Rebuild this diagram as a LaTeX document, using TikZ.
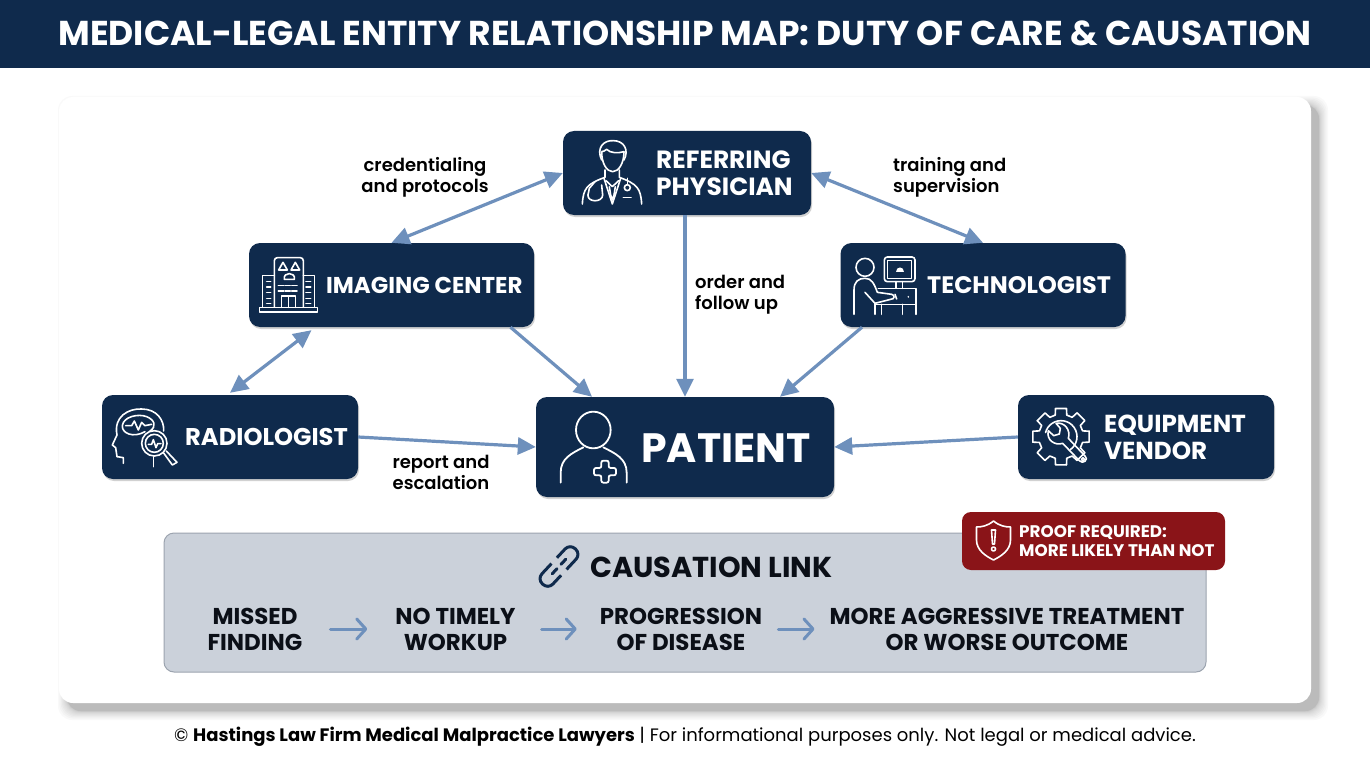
\documentclass[tikz,border=0pt]{standalone}
\usepackage{fontspec}
\setmainfont{Poppins}[BoldFont=Poppins Bold]
\newfontfamily\heavyfont{Poppins SemiBold}
\usetikzlibrary{arrows.meta,shadows}
\definecolor{navy}{HTML}{0F2A4C}
\definecolor{steel}{HTML}{6E90BC}
\definecolor{panel}{HTML}{CBD1DA}
\definecolor{panelline}{HTML}{9CA4AF}
\definecolor{badge}{HTML}{8A1418}
\definecolor{inkblack}{HTML}{0B0F17}
\def\sc{1pt}
\def\boxht{84}
\def\zoomsc{.3333}
\tikzset{
  box/.style={fill=navy, rounded corners=11pt, inner sep=0pt, minimum height=\boxht*\sc,
    drop shadow={shadow xshift=1pt, shadow yshift=-2pt, opacity=.18, fill=black}},
  boxtext/.style={text=white, inner sep=0pt, anchor=west, align=left, font=\fontsize{#1}{27}\selectfont\bfseries},
  edgetext/.style={text=black, inner sep=0pt, font=\fontsize{18}{21}\selectfont\heavyfont},
  steptext/.style={text=inkblack, inner sep=0pt, align=center, font=\fontsize{22.9}{26}\selectfont\bfseries},
  rel/.style={draw=steel, line width=3.2pt, >={Triangle[length=18pt,width=17pt]}},
  stepline/.style={draw=steel, line width=3pt, line cap=round, -{Straight Barb[length=9pt,width=20pt,round]}},
  icon/.style={draw=white, line width=1.6pt, line cap=round, line join=round},
}

\begin{document}
\begin{tikzpicture}[x=\sc, y=-\sc]
\path [use as bounding box] (0,0) rectangle (1370,765);
\fill [navy] (0,0) rectangle (1370,68);
\node (title) at (685,33) [text=white, inner sep=0pt, font=\fontsize{34.5}{38}\selectfont\bfseries]
  {MEDICAL-LEGAL ENTITY RELATIONSHIP MAP: DUTY OF CARE \& CAUSATION};

% card
\foreach \g in {0,...,12}
  \fill [black, opacity=.022, rounded corners=14pt] (67-\g*\g/16,105-\g*\g/16) rectangle (1319+\g*\g/16,711+\g*\g/16);
\fill [white, rounded corners=14pt] (59,97) rectangle (1311,703);

% boxes
\node (refer) at (687,173) [box, minimum width=248*\sc] {};
\node (imaging) at (391.5,285) [box, minimum width=285*\sc] {};
\node (tech) at (983,285) [box, minimum width=285*\sc] {};
\node (radio) at (230,437) [box, minimum width=256*\sc] {};
\node (patient) at (685,447) [box, minimum width=298*\sc, minimum height=100*\sc] {};
\node (vendor) at (1146,437) [box, minimum width=256*\sc] {};

\node (refertxt) at (656,173) [boxtext=24.9] {REFERRING\\PHYSICIAN};
\node (imagingtxt) at (326,285) [boxtext=22.9] {IMAGING CENTER};
\node (techtxt) at (927,285) [boxtext=23.9] {TECHNOLOGIST};
\node (radiotxt) at (185,437) [boxtext=24.2] {RADIOLOGIST};
\node (patienttxt) at (641,448) [boxtext=41] {PATIENT};
\node (vendortxt) at (1104,437) [boxtext=24.6] {EQUIPMENT\\VENDOR};

% connectors
\draw [rel, <->] (refer.west) -- (imaging.north);
\draw [rel, <->] (refer.east) -- (tech.north);
\draw [rel, ->] (refer.south -| patient.north) -- (patient.north);
\draw [rel, <->] ([xshift=-80pt,yshift=-3pt]imaging.south) -- ([yshift=2pt]radio.north);
\draw [rel, ->] ([xshift=119pt]imaging.south) -- ([xshift=-93pt]patient.north);
\draw [rel, ->] ([xshift=-121pt]tech.south) -- ([xshift=95pt]patient.north);
\draw [rel, ->] (radio.east) -- (patient.west);
\draw [rel, ->] (vendor.west) -- (patient.east);

\node (credlabel) at (425,177) [edgetext, align=center] {credentialing\\and protocols};
\node (trainlabel) at (893,177) [edgetext, align=left, anchor=west] {training and\\supervision};
\node (orderlabel) at (695,295) [edgetext, align=left, anchor=west] {order and\\follow up};
\node (reportlabel) at (441,472.5) [edgetext, align=center] {report and\\escalation};

% causation panel
\draw [fill=panel, draw=panelline, line width=1pt, rounded corners=10pt] (164,533) rectangle (1206,672);
\node (causetxt) at (590,567) [anchor=west, inner sep=0pt, text=inkblack, font=\fontsize{28.8}{32}\selectfont\bfseries] {CAUSATION LINK};
\begin{scope} [shift={(559,566.5)}, rotate=47]
  \draw [navy, line width=3pt, rounded corners=7pt] (-3,-7.5) -- (-24,-7.5) -- (-24,7.5) -- (-5,7.5);
  \draw [navy, line width=3pt, rounded corners=7pt] (3,7.5) -- (24,7.5) -- (24,-7.5) -- (5,-7.5);
  \draw [navy, line width=3pt, line cap=round] (-10,0) -- (-3,0);
  \draw [navy, line width=3pt, line cap=round] (3,0) -- (10,0);
\end{scope}

\node (missed) at (255,629) [steptext] {MISSED\\FINDING};
\node (workup) at (455.5,629) [steptext] {NO TIMELY\\WORKUP};
\node (disease) at (681,629) [steptext] {PROGRESSION\\OF DISEASE};
\node (outcome) at (1007,629) [steptext] {MORE AGGRESSIVE TREATMENT\\OR WORSE OUTCOME};
\draw [stepline, shorten <=28pt, shorten >=28pt] (missed.east) -- (workup.west);
\draw [stepline, shorten <=26pt, shorten >=23pt] (workup.east) -- (disease.west);
\draw [stepline, shorten <=16pt, shorten >=15pt] (disease.east) -- (outcome.west);

% badge
\fill [badge, rounded corners=9pt] (962,512) rectangle (1225,570);
\node (prooftxt) at (1019,541) [anchor=west, inner sep=0pt, align=left, text=white, font=\fontsize{16.8}{18.5}\selectfont\bfseries]
  {PROOF REQUIRED:\\MORE LIKELY THAN NOT};
\begin{scope} [shift={(993.5,540)}]
  \draw [icon] (0,-19) .. controls (6,-14) and (12,-13) .. (17,-13) -- (17,0) .. controls (17,10) and (8,16) .. (0,20)
    .. controls (-8,16) and (-17,10) .. (-17,0) -- (-17,-13) .. controls (-12,-13) and (-6,-14) .. (0,-19) -- cycle;
  \draw [icon] (-2,-10) -- (2,-10) -- (1,4) -- (-1,4) -- cycle;
  \draw [icon] (0,9) circle (2);
\end{scope}

% physician icon
\begin{scope} [shift={(550,120)}, scale=\zoomsc]
  \draw [icon] (155,120) .. controls (138,85) and (160,60) .. (190,62) .. controls (222,62) and (238,90) .. (222,120);
  \draw [icon] (155,95) .. controls (155,130) and (170,155) .. (188,155) .. controls (206,155) and (222,130) .. (222,95)
    .. controls (205,100) and (180,100) .. (170,88) .. controls (165,92) and (160,95) .. (155,95);
  \draw [icon] (97,252) .. controls (100,205) and (110,192) .. (165,172) -- (165,150);
  \draw [icon] (275,252) .. controls (272,205) and (262,192) .. (208,172) -- (208,150);
  \draw [icon] (162,175) -- (187,252) -- (212,175);
  \draw [icon] (168,182) -- (187,200) -- (206,182);
  \draw [icon] (178,200) -- (182,225) -- (187,240) -- (192,225) -- (196,200);
  \draw [icon] (135,185) -- (118,205) -- (114,225) (155,195) -- (158,225);
  \draw [icon] (114,225) .. controls (112,248) and (158,248) .. (158,225);
  \draw [icon] (232,175) -- (232,194);
  \draw [icon] (232,203) circle (9);
  \draw [icon] (220,233) -- (243,233);
\end{scope}

% imaging center icon
\begin{scope} [shift={(240,235)}, scale=\zoomsc]
  \draw [icon] (103,122) -- (68,122) -- (68,216);
  \draw [icon] (190,122) -- (224,122) -- (224,216);
  \draw [icon, rounded corners=3pt] (103,216) -- (103,68) -- (190,68) -- (190,216);
  \draw [icon] (58,217) rectangle (233,231);
  \draw [icon] (125,217) -- (125,183) -- (167,183) -- (167,217) (146,183) -- (146,217);
  \foreach \wy in {140,156,173,190,205} {
    \draw [icon] (80,\wy) -- (92,\wy);
    \draw [icon] (198,\wy) -- (212,\wy);
  }
  \foreach \wx in {115,135,155} {
    \draw [icon] (\wx,152) -- (\wx+16,152);
    \draw [icon] (\wx,168) -- (\wx+16,168);
  }
  \draw [icon] (116,105) -- (129,82) -- (142,105) -- cycle;
  \draw [icon] (153,105) -- (166,82) -- (179,105) -- cycle;
  \draw [icon] (133,133) .. controls (128,110) and (168,110) .. (163,133) -- cycle;
\end{scope}

% technologist icon
\begin{scope} [shift={(830,235)}, scale=\zoomsc]
  \draw [icon] (105,97) circle (27);
  \draw [icon] (72,238) -- (72,165) .. controls (72,140) and (85,130) .. (105,130) .. controls (125,130) and (132,145) .. (142,172) -- (185,178) .. controls (195,180) and (195,193) .. (182,193) -- (135,205);
  \draw [icon] (105,172) -- (135,205) -- (135,238);
  \draw [icon, rounded corners=3pt] (163,66) rectangle (255,140);
  \draw [icon] (172,76) rectangle (245,130);
  \fill [white] (197,110) .. controls (197,92) and (222,92) .. (222,110) -- cycle;
  \draw [icon] (198,140) -- (198,160) (218,140) -- (218,160);
  \draw [icon] (145,160) -- (258,160) -- (258,238);
  \draw [icon] (135,208) -- (258,208);
  \draw [icon] (155,238) -- (155,208) (218,238) -- (218,208);
  \draw [icon] (195,178) -- (200,192) (235,185) -- (235,186);
\end{scope}

% radiologist icon
\begin{scope} [shift={(95,385)}, scale=\zoomsc]
  \draw [icon] (85,235) -- (85,218) -- (66,215) -- (62,188) -- (52,180) -- (66,150) .. controls (55,95) and (100,70) .. (140,72) .. controls (185,72) and (208,105) .. (206,138);
  \draw [icon] (175,215) -- (175,245);
  \draw [icon] (150,140) .. controls (115,160) and (80,145) .. (82,122) .. controls (85,95) and (130,85) .. (155,95) .. controls (180,105) and (185,125) .. (165,138);
  \draw [icon] (92,122) -- (110,122) -- (118,108) -- (130,135) -- (140,112) -- (150,122) -- (170,118);
  \draw [icon] (178,175) circle (38);
  \draw [icon] (178,175) circle (27);
  \draw [icon] (160,178) -- (170,178) -- (175,164) -- (183,188) -- (188,176) -- (198,176);
  \draw [icon] (206,204) -- (232,240) -- (246,232) -- (214,198);
\end{scope}

% patient icon
\begin{scope} [shift={(530,390)}, scale=\zoomsc]
  \draw [icon, line width=1.8pt] (190,120) ellipse (52 and 55);
  \draw [icon, line width=1.8pt] (92,278) -- (92,248) .. controls (92,205) and (125,190) .. (160,172);
  \draw [icon, line width=1.8pt] (290,278) -- (290,248) .. controls (290,205) and (255,190) .. (220,172);
  \draw [icon, line width=1.8pt, rounded corners=2pt] (214,212) -- (236,212) -- (236,234) -- (258,234) -- (258,256) -- (236,256) -- (236,278) -- (214,278) -- (214,256) -- (192,256) -- (192,234) -- (214,234) -- cycle;
\end{scope}

% vendor icon
\begin{scope} [shift={(1010,385)}, scale=\zoomsc]
  \begin{scope} [shift={(153,155)}]
    \foreach \a in {0,45,...,315}
      \draw [icon] (\a-11:86) -- (\a+11:86) -- (\a+15:67) -- (\a+30:67) -- (\a+34:86);
    \draw [icon] (55:48) arc (55:-165:48);
    \draw [icon] (-15,-40) -- (-2,-25) -- (-5,-8) -- (-22,-3) -- (-38,-18) .. controls (-45,10) and (-18,28) .. (5,20) -- (55,72) .. controls (65,85) and (85,68) .. (72,58) -- (22,5) .. controls (30,-20) and (10,-45) .. (-15,-40) -- cycle;
    \draw [icon] (66,68) circle (5);
  \end{scope}
\end{scope}

\node (footer) at (685,737) [inner sep=0pt, text=black, font=\fontsize{18}{21}\selectfont]
  {© {\bfseries Hastings Law Firm Medical Malpractice Lawyers} | For informational purposes only. Not legal or medical advice.};
\end{tikzpicture}
\end{document}
